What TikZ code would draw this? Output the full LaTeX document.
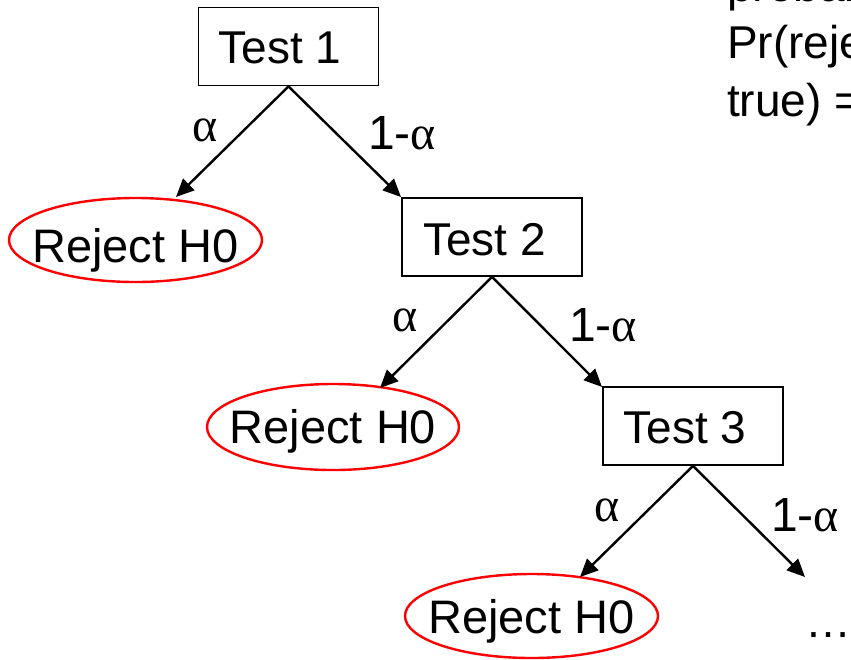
\documentclass[tikz,border=0pt]{standalone}
\usepackage{fontspec}
\setmainfont{Liberation Sans}
\newfontfamily\greekfont{Liberation Serif}
\usetikzlibrary{arrows.meta}

\tikzset{
  testbox/.style={draw=black, line width=1.8pt, minimum width=180pt, minimum height=78pt,
    inner sep=0pt},
  boxtext/.style={font=\fontsize{46}{55}\selectfont, inner sep=0pt, anchor=base},
  rejectring/.style={draw=red, line width=2.4pt},
  rejecttext/.style={font=\fontsize{47}{56}\selectfont, inner sep=0pt, anchor=base},
  branch/.style={draw=black, line width=2.4pt, -{Triangle[length=18pt,width=16pt]}},
  problabel/.style={font=\fontsize{48}{56}\selectfont, inner sep=0pt},
  sidetext/.style={font=\fontsize{46}{55}\selectfont, inner sep=0pt, anchor=base west}
}
\newcommand{\alphaglyph}{{\greekfont α}}

\begin{document}
\begin{tikzpicture}[x=1pt, y=-1pt]
\useasboundingbox (0,0) rectangle (851,659);
\clip (0,0) rectangle (851,659);
\fill[white] (0,0) rectangle (851,659);

% test boxes and their captions
\node[testbox] (t1) at (288.5,46.5) {};
\node[testbox] (t2) at (492,237) {};
\node[testbox] (t3) at (693,426) {};
\node[boxtext] (t1txt) at (280,63) {Test 1};
\node[boxtext] (t2txt) at (484.5,255) {Test 2};
\node[boxtext] (t3txt) at (685,443) {Test 3};

% rejection outcomes
\coordinate (r1) at (135.5,240);
\coordinate (r2) at (333,427);
\coordinate (r3) at (531.5,616);
\draw[rejectring] (r1) ellipse [x radius=126.5, y radius=42];
\draw[rejectring] (r2) ellipse [x radius=126, y radius=43];
\draw[rejectring] (r3) ellipse [x radius=126.5, y radius=42];
\node[rejecttext] (r1txt) at (135.5,262) {Reject H0};
\node[rejecttext] (r2txt) at (333,443) {Reject H0};
\node[rejecttext] (r3txt) at (531.5,633) {Reject H0};

% arrow end points
\coordinate (e1l) at (176,197);
\coordinate (e1r) at (401,197);
\coordinate (e2l) at (380,388);
\coordinate (e2r) at (602,387);
\coordinate (e3l) at (580,577);
\coordinate (e3r) at (805,577);

\draw[branch] (t1.south) -- (e1l);
\draw[branch] (t1.south) -- (e1r);
\draw[branch] (t2.south) -- (e2l);
\draw[branch] (t2.south) -- (e2r);
\draw[branch] (t3.south) -- (e3l);
\draw[branch] (t3.south) -- (e3r);

% branch probabilities
\node[problabel] (a1) at (205,130) {\alphaglyph};
\node[problabel] (b1) at (402,133) {1-\alphaglyph};
\node[problabel] (a2) at (405,320) {\alphaglyph};
\node[problabel] (b2) at (603,325) {1-\alphaglyph};
\node[problabel] (a3) at (607,510) {\alphaglyph};
\node[problabel] (b3) at (805,515) {1-\alphaglyph};

% continuation
\node[sidetext] (dots) at (805,637) {…};

% side note
\node[sidetext] (n1) at (727,1.5) {probability};
\node[sidetext] (n2) at (727,58) {Pr(reject H0 | H0};
\node[sidetext] (n3) at (727,116) {true) = …};
\end{tikzpicture}
\end{document}
